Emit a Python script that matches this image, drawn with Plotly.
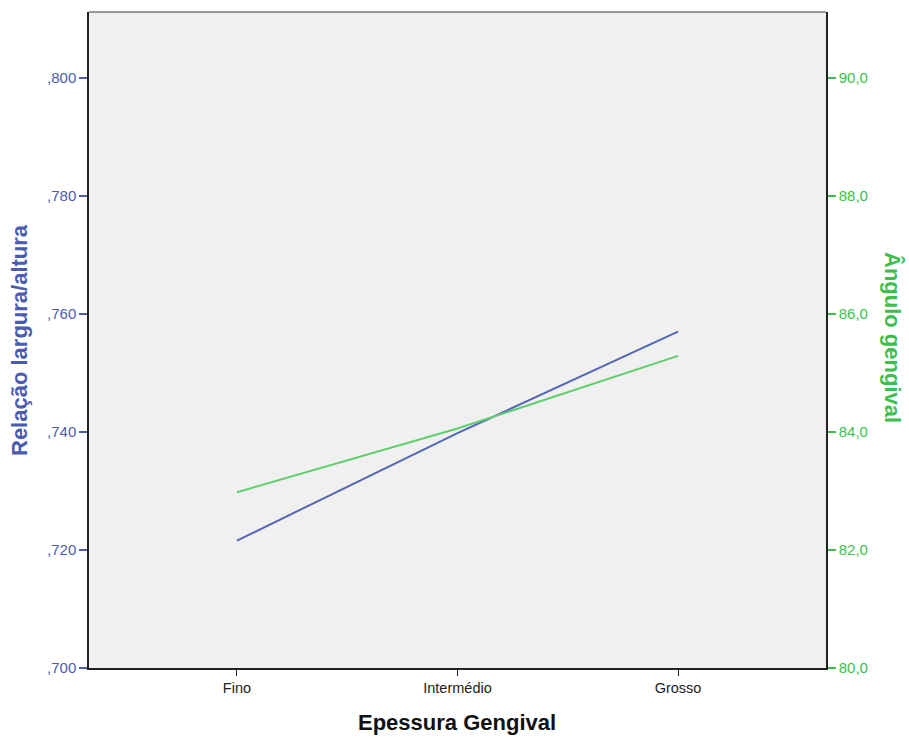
import plotly.graph_objects as go

categories = ["Fino", "Intermédio", "Grosso"]
relacao = [0.7216, 0.7398, 0.7570]
angulo = [82.98, 84.06, 85.29]

left_ticks = [0.700, 0.720, 0.740, 0.760, 0.780, 0.800]
left_ticktext = [",700", ",720", ",740", ",760", ",780", ",800"]
right_ticks = [80, 82, 84, 86, 88, 90]
right_ticktext = ["80,0", "82,0", "84,0", "86,0", "88,0", "90,0"]

BLUE_TXT = "#4a5cb0"
BLUE_LINE = "#5566b6"
GREEN_TXT = "#3cbf4e"
GREEN_LINE = "#5fce6d"
FONT = "Liberation Sans, Arial, sans-serif"

fig = go.Figure()
fig.add_trace(go.Scatter(x=[0, 1, 2], y=relacao, mode="lines",
                         line=dict(color=BLUE_LINE, width=2), yaxis="y", showlegend=False))
fig.add_trace(go.Scatter(x=[0, 1, 2], y=angulo, mode="lines",
                         line=dict(color=GREEN_LINE, width=2), yaxis="y2", showlegend=False))

fig.update_layout(
    width=909, height=738,
    margin=dict(l=89, r=83, t=12, b=70),
    paper_bgcolor="white",
    plot_bgcolor="#f0f0f0",
    font=dict(family=FONT, size=15),
    xaxis=dict(range=[-0.671, 2.671], tickvals=[0, 1, 2], ticktext=categories,
               showgrid=False, zeroline=False, showline=True, linecolor="#222222", linewidth=1.5,
               ticks="outside", ticklen=6, tickcolor="#222222", tickfont=dict(color="#222222", size=14.5)),
    yaxis=dict(range=[0.700, 0.81119], tickvals=left_ticks, ticktext=left_ticktext,
               showgrid=False, zeroline=False, showline=True, linecolor="#222222", linewidth=1.5,
               ticks="outside", ticklen=8, tickcolor=BLUE_TXT, tickwidth=1.5,
               tickfont=dict(color=BLUE_TXT, size=15)),
    yaxis2=dict(range=[80, 91.119], tickvals=right_ticks, ticktext=right_ticktext,
                overlaying="y", side="right",
                showgrid=False, zeroline=False, showline=True, linecolor="#222222", linewidth=1.5,
                ticks="outside", ticklen=8, tickcolor=GREEN_TXT, tickwidth=1.5,
                tickfont=dict(color=GREEN_TXT, size=15)),
    shapes=[dict(type="line", xref="paper", yref="paper", x0=0, x1=1, y0=1, y1=1,
                 line=dict(color="#777777", width=1.5))],
    annotations=[
        dict(text="<b>Relação largura/altura</b>", x=19, y=340, xref="paper", yref="paper",
             showarrow=False, textangle=-90, font=dict(color=BLUE_TXT, size=22, family=FONT)),
        dict(text="<b>Ângulo gengival</b>", x=893, y=338, xref="paper", yref="paper",
             showarrow=False, textangle=90, font=dict(color=GREEN_TXT, size=22, family=FONT)),
        dict(text="<b>Epessura Gengival</b>", x=457, y=722, xref="paper", yref="paper",
             showarrow=False, font=dict(color="#111111", size=22, family=FONT)),
    ],
)

# convert pixel-based annotation positions to paper coordinates
pw = 909 - 89 - 83
ph = 738 - 12 - 70
for a in fig.layout.annotations:
    a.x = (a.x - 89) / pw
    a.y = (738 - 70 - a.y) / ph
    a.xanchor = "center"
    a.yanchor = "middle"
fig.write_html("out.html")
